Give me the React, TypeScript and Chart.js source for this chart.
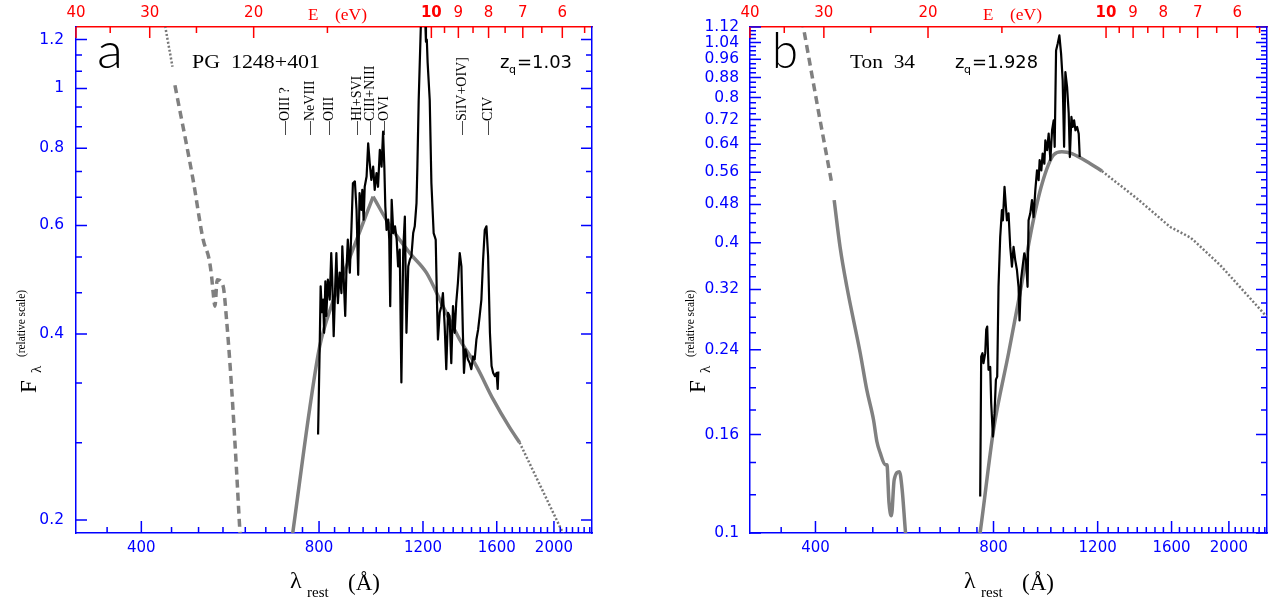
import React, { useEffect, useRef } from "react";
import { Chart, registerables } from "chart.js";

Chart.register(...registerables);

// ---------------- axes ----------------
const WAVE_MIN = 310;
const WAVE_MAX = 2320;
const HC = 12398.4; // eV * Angstrom
const WAVE_TICKS = [400, 800, 1200, 1600, 2000];
const ENERGY_TICKS = [40, 30, 20, 10, 9, 8, 7, 6];
const ENERGY_MINOR = [35, 25, 15, 9.5, 8.5, 7.5, 6.5, 5.5];
const FLUX_A_RANGE = [0.1905, 1.2576];
const FLUX_A_TICKS = [0.2, 0.4, 0.6, 0.8, 1, 1.2];
const FLUX_B_RANGE = [0.1, 1.12];
const FLUX_B_TICKS = [0.1, 0.16, 0.24, 0.32, 0.4, 0.48, 0.56, 0.64, 0.72, 0.8, 0.88, 0.96, 1.04, 1.12];

const WAVE_MINOR: number[] = [];
for (let w = 350; w <= 2300; w += 50) if (w % 400 !== 0) WAVE_MINOR.push(w);
const FLUX_A_MINOR: number[] = [];
for (let k = 4; k <= 18; k++) if (k % 3 !== 0) FLUX_A_MINOR.push((k * 0.2) / 3);
const FLUX_B_MINOR: number[] = [];
for (let k = 6; k <= 55; k++) if (k % 4 !== 0) FLUX_B_MINOR.push(k * 0.02);

// ---------------- panel a : PG 1248+401 ----------------
const SPEC_A: [number, number][] = [
  [797, 0.275], [802, 0.38], [805, 0.478], [809, 0.434], [813, 0.455], [816, 0.402], [820, 0.487],
  [823, 0.428], [828, 0.49], [834, 0.455], [839, 0.541], [842, 0.496], [847, 0.397], [852, 0.478],
  [856, 0.541], [861, 0.449], [867, 0.503], [873, 0.466], [876, 0.555], [880, 0.503], [886, 0.428],
  [890, 0.503], [895, 0.569], [902, 0.503], [908, 0.598], [913, 0.702], [920, 0.707], [926, 0.636],
  [932, 0.499], [937, 0.677], [944, 0.636], [947, 0.685], [952, 0.613], [956, 0.693], [963, 0.72],
  [969, 0.815], [975, 0.756], [981, 0.711], [988, 0.747], [994, 0.685], [1001, 0.729], [1007, 0.693],
  [1014, 0.795], [1021, 0.747], [1027, 0.851], [1032, 0.747], [1036, 0.644], [1041, 0.59], [1048, 0.613],
  [1052, 0.569], [1056, 0.444], [1062, 0.66], [1069, 0.583], [1076, 0.598], [1083, 0.569], [1089, 0.515],
  [1096, 0.548], [1103, 0.334], [1111, 0.548], [1118, 0.62], [1125, 0.402], [1133, 0.515], [1140, 0.528],
  [1147, 0.535], [1155, 0.583], [1162, 0.598], [1170, 0.652], [1174, 0.747], [1180, 0.957], [1191, 1.3],
  [1202, 1.48], [1210, 1.3], [1214, 1.19], [1218, 1.2], [1222, 1.1], [1232, 0.957], [1240, 0.702],
  [1251, 0.583], [1261, 0.569], [1267, 0.455], [1272, 0.392], [1281, 0.433], [1289, 0.444], [1297, 0.466],
  [1306, 0.412], [1314, 0.351], [1323, 0.433], [1331, 0.428], [1340, 0.359], [1349, 0.444], [1358, 0.402],
  [1366, 0.449], [1375, 0.484], [1385, 0.541], [1394, 0.515], [1402, 0.402], [1408, 0.346], [1416, 0.378],
  [1421, 0.373], [1430, 0.364], [1440, 0.359], [1449, 0.351], [1459, 0.368], [1468, 0.364], [1478, 0.392],
  [1488, 0.407], [1497, 0.428], [1507, 0.455], [1517, 0.528], [1527, 0.59], [1537, 0.598], [1547, 0.535],
  [1558, 0.402], [1568, 0.355], [1578, 0.346], [1589, 0.342], [1599, 0.346], [1606, 0.326], [1610, 0.348],
];
const MODEL_A_RISE: [number, number][] = [
  [716, 0.18], [722, 0.1905], [771, 0.302], [802, 0.382], [840, 0.445], [890, 0.515], [937, 0.585],
  [988, 0.668],
];
const MODEL_A_FALL: [number, number][] = [
  [988, 0.668], [1056, 0.598], [1140, 0.541], [1216, 0.503], [1297, 0.444], [1385, 0.392],
  [1478, 0.355], [1578, 0.3135], [1681, 0.2827], [1749, 0.267],
];
const MODEL_A_DOT_RIGHT: [number, number][] = [[1749, 0.267], [2071, 0.1905], [2110, 0.183]];
const MODEL_A_DOT_LEFT: [number, number][] = [[437, 1.3], [440.2, 1.242], [451.7, 1.084]];
const MODEL_A_DASH: [number, number][] = [
  [456, 1.012], [489.5, 0.711], [509.1, 0.569], [521.2, 0.528], [526.1, 0.496], [529.4, 0.466],
  [533, 0.444], [537.8, 0.49], [550.4, 0.478], [557.7, 0.422], [568.5, 0.33], [579.7, 0.2417],
  [587.2, 0.1934], [589, 0.185],
];
const LINES_A: [string, number][] = [
  ["\u2014OIII ?", 702], ["\u2014NeVIII", 774], ["\u2014OIII", 833], ["\u2014HI+SVI", 930],
  ["\u2014CIII+NIII", 977], ["\u2014OVI", 1034], ["\u2014SiIV+OIV]", 1400], ["\u2014CIV", 1549],
];

// ---------------- panel b : Ton 34 ----------------
const SPEC_B: [number, number][] = [
  [759.6, 0.119], [762.5, 0.232], [766.4, 0.236], [769.4, 0.225], [774.6, 0.236], [777.6, 0.264],
  [780.6, 0.268], [784.6, 0.218], [789.8, 0.221], [792.8, 0.186], [798.1, 0.1585], [803.1, 0.177],
  [807.5, 0.208], [811.6, 0.211], [815.7, 0.324], [821.1, 0.411], [826.6, 0.467], [829.8, 0.445],
  [835, 0.522], [839.6, 0.4745], [842.9, 0.445], [848.2, 0.46], [853.8, 0.392], [859.5, 0.3565],
  [864.9, 0.392], [870.6, 0.368], [876.4, 0.351], [881.9, 0.324], [885.3, 0.276], [890.2, 0.3345],
  [895.8, 0.3565], [901.7, 0.38], [907.7, 0.368], [913.4, 0.324], [917, 0.445], [923.1, 0.46],
  [929.3, 0.49], [935.1, 0.452], [941.4, 0.514], [947.6, 0.565], [953.6, 0.539], [957.3, 0.593],
  [963.7, 0.565], [968.6, 0.612], [975.1, 0.583], [978.9, 0.652], [985.4, 0.622], [991.6, 0.673],
  [998.2, 0.593], [1004.8, 0.684], [1011.1, 0.717], [1015.1, 0.632], [1020.6, 1.001], [1027, 1.034],
  [1033.8, 1.076], [1040.7, 0.986], [1047.2, 0.868], [1053, 0.632], [1058.3, 0.903], [1065.4, 0.841],
  [1072.1, 0.741], [1076.8, 0.602], [1083.4, 0.729], [1088.9, 0.695], [1094.9, 0.717], [1100.5, 0.684],
  [1107.8, 0.695], [1114.7, 0.673], [1119.1, 0.602],
];
const MODEL_B_SOLID_RIGHT: [number, number][] = [
  [755, 0.095], [764.5, 0.1065], [800, 0.1636], [848.2, 0.2359], [886.7, 0.314], [929.3, 0.4314],
  [966.4, 0.53], [1011.1, 0.608], [1044, 0.617], [1085.6, 0.612], [1166.4, 0.583], [1220, 0.563],
];
const MODEL_B_DOT_RIGHT: [number, number][] = [
  [1220, 0.563], [1398, 0.494], [1592, 0.431], [1721, 0.41], [1755, 0.4015], [1935, 0.359],
  [2318, 0.2808], [2340, 0.277],
];
const MODEL_B_DASH: [number, number][] = [[378, 1.16], [381.6, 1.119], [404.4, 0.752], [426.3, 0.53]];
const MODEL_B_SOLID_LEFT: [number, number][] = [
  [430.2, 0.49], [440.2, 0.392], [452, 0.324], [476.1, 0.2362], [488.5, 0.198], [501.4, 0.1717],
  [508, 0.1548], [514.6, 0.1466], [524.8, 0.1385], [528.3, 0.1385], [532.6, 0.1155], [537.6, 0.1086],
  [543.5, 0.129], [554.7, 0.134], [560.6, 0.1229], [568, 0.1], [570.5, 0.095],
];

// ---------------- styling ----------------
const BLUE = "#0000ff";
const RED = "#ff0000";
const GRAY = "#808080";
const SANS = '"DejaVu Sans", sans-serif';
const SERIF = '"Liberation Serif", "DejaVu Serif", serif';
const THIN = `300 50px Lato, Inter, ${SANS}`;

type Txt = {
  s: string; x: number; y: number; font: string; color?: string; w?: number; rot?: boolean;
  base?: CanvasTextBaseline;
};

function drawTxt(ctx: CanvasRenderingContext2D, t: Txt) {
  ctx.save();
  ctx.font = t.font;
  ctx.fillStyle = t.color || "#000";
  ctx.textAlign = "left";
  ctx.textBaseline = t.base || "alphabetic";
  ctx.translate(t.x, t.y);
  if (t.rot) ctx.rotate(-Math.PI / 2);
  if (t.w) {
    const m = ctx.measureText(t.s).width;
    if (m > 0) ctx.scale(t.w / m, 1);
  }
  ctx.fillText(t.s, 0, 0);
  ctx.restore();
}

const pts = (arr: [number, number][]) => arr.map(([x, y]) => ({ x, y }));
const ds = (arr: [number, number][], color: string, width: number, dash: number[] = [], smooth = false) => ({
  data: pts(arr), borderColor: color, borderWidth: width, borderDash: dash, pointRadius: 0,
  fill: false, tension: smooth ? 0.4 : 0, cubicInterpolationMode: smooth ? "monotone" : "default",
  clip: 0, xAxisID: "x", yAxisID: "y", borderCapStyle: "butt", borderJoinStyle: "round",
});

const DASH = [8, 5];
const DOT = [2, 2];

type Panel = {
  left: number; right: number; range: number[]; ticks: number[]; minor: number[];
  labelPad: number; datasets: any[]; texts: Txt[]; lines: [string, number][];
};

const PANEL_A: Panel = {
  left: 76, right: 592, range: FLUX_A_RANGE, ticks: FLUX_A_TICKS, minor: FLUX_A_MINOR, labelPad: 12,
  datasets: [
    ds(SPEC_A, "#000", 2.2),
    ds(MODEL_A_RISE, GRAY, 3.5, [], true),
    ds(MODEL_A_FALL, GRAY, 3.5, [], true),
    ds(MODEL_A_DOT_RIGHT, "#777", 2.5, DOT),
    ds(MODEL_A_DASH, GRAY, 3.5, DASH, true),
    ds(MODEL_A_DOT_LEFT, "#777", 2.5, DOT),
  ],
  lines: LINES_A,
  texts: [
    { s: "a", x: 97, y: 68, font: THIN, color: "#000", w: 26 },
    { s: "PG  1248+401", x: 192, y: 68, font: `19px ${SERIF}`, w: 128 },
    { s: "z", x: 500, y: 68, font: `18px ${SANS}` },
    { s: "q", x: 509, y: 73, font: `11px ${SANS}` },
    { s: "=1.03", x: 517, y: 68, font: `18px ${SANS}`, w: 55 },
    { s: "E", x: 308, y: 20, font: `17px ${SERIF}`, color: RED },
    { s: "(eV)", x: 335, y: 20, font: `17px ${SERIF}`, color: RED, w: 32 },
    { s: "\u03bb", x: 290, y: 588, font: `24px ${SERIF}` },
    { s: "rest", x: 307, y: 597, font: `15px ${SERIF}` },
    { s: "(\u00c5)", x: 348, y: 590, font: `23px ${SERIF}`, w: 32 },
    { s: "F", x: 36, y: 393, font: `23px ${SERIF}`, rot: true },
    { s: "\u03bb", x: 41, y: 373, font: `15px ${SERIF}`, rot: true },
    { s: "(relative scale)", x: 25, y: 357, font: `13px ${SERIF}`, rot: true, w: 67 },
  ],
};

const PANEL_B: Panel = {
  left: 113, right: 630, range: FLUX_B_RANGE, ticks: FLUX_B_TICKS, minor: FLUX_B_MINOR, labelPad: 11,
  datasets: [
    ds(SPEC_B, "#000", 2.2),
    ds(MODEL_B_SOLID_RIGHT, GRAY, 3.5, [], true),
    ds(MODEL_B_DOT_RIGHT, "#777", 2.5, DOT),
    ds(MODEL_B_DASH, GRAY, 3.5, DASH),
    ds(MODEL_B_SOLID_LEFT, GRAY, 3.5, [], true),
  ],
  lines: [],
  texts: [
    { s: "b", x: 135, y: 68, font: THIN, color: "#000", w: 26 },
    { s: "Ton  34", x: 213, y: 68, font: `19px ${SERIF}`, w: 65 },
    { s: "z", x: 318, y: 68, font: `18px ${SANS}` },
    { s: "q", x: 327, y: 73, font: `11px ${SANS}` },
    { s: "=1.928", x: 335, y: 68, font: `18px ${SANS}`, w: 66 },
    { s: "E", x: 346, y: 20, font: `17px ${SERIF}`, color: RED },
    { s: "(eV)", x: 373, y: 20, font: `17px ${SERIF}`, color: RED, w: 32 },
    { s: "\u03bb", x: 327, y: 588, font: `24px ${SERIF}` },
    { s: "rest", x: 344, y: 597, font: `15px ${SERIF}` },
    { s: "(\u00c5)", x: 385, y: 590, font: `23px ${SERIF}`, w: 32 },
    { s: "F", x: 68, y: 393, font: `23px ${SERIF}`, rot: true },
    { s: "\u03bb", x: 73, y: 373, font: `15px ${SERIF}`, rot: true },
    { s: "(relative scale)", x: 57, y: 357, font: `13px ${SERIF}`, rot: true, w: 67 },
  ],
};

function makeDecor(p: Panel) {
  return {
    id: "decor",
    afterDraw(chart: any) {
      const ctx: CanvasRenderingContext2D = chart.ctx;
      const a = chart.chartArea;
      const sx = chart.scales.x, se = chart.scales.e, sy = chart.scales.y;
      const inH = (px: number) => px >= a.left - 0.5 && px <= a.right + 0.5;
      const inV = (py: number) => py >= a.top - 0.5 && py <= a.bottom + 0.5;
      ctx.save();
      ctx.lineWidth = 1.5;
      ctx.lineCap = "butt";
      ctx.strokeStyle = BLUE;
      ctx.beginPath();
      const xt = (vals: number[], len: number) => {
        for (const v of vals) {
          const px = sx.getPixelForValue(v);
          if (!inH(px)) continue;
          ctx.moveTo(px, a.bottom); ctx.lineTo(px, a.bottom - len);
        }
      };
      xt(WAVE_TICKS, 12); xt(WAVE_MINOR, 6);
      const yt = (vals: number[], len: number) => {
        for (const v of vals) {
          const py = sy.getPixelForValue(v);
          if (!inV(py)) continue;
          ctx.moveTo(a.left, py); ctx.lineTo(a.left + len, py);
          ctx.moveTo(a.right, py); ctx.lineTo(a.right - len, py);
        }
      };
      yt(p.ticks, 11); yt(p.minor, 6);
      ctx.stroke();
      ctx.strokeStyle = RED;
      ctx.beginPath();
      const et = (vals: number[], len: number) => {
        for (const v of vals) {
          const px = se.getPixelForValue(v);
          if (!inH(px)) continue;
          ctx.moveTo(px, a.top); ctx.lineTo(px, a.top + len);
        }
      };
      et(ENERGY_TICKS, 11); et(ENERGY_MINOR, 6);
      ctx.stroke();
      ctx.restore();
      for (const t of p.texts) drawTxt(ctx, t);
      for (const [s, wl] of p.lines) {
        drawTxt(ctx, { s, x: sx.getPixelForValue(wl), y: 135, font: `14px ${SERIF}`, rot: true, base: "middle" });
      }
    },
  };
}

function makeChart(canvas: HTMLCanvasElement, p: Panel) {
  const W = 637, H = 600;
  return new Chart(canvas, {
    type: "line",
    data: { datasets: p.datasets as any },
    options: {
      responsive: false,
      animation: false,
      devicePixelRatio: 1,
      events: [],
      layout: { padding: 0 },
      plugins: { legend: { display: false }, tooltip: { enabled: false } },
      scales: {
        x: {
          type: "logarithmic", position: "bottom", min: WAVE_MIN, max: WAVE_MAX, bounds: "data",
          afterFit: (s: any) => { s.height = H - 533; },
          afterBuildTicks: (s: any) => { s.ticks = WAVE_TICKS.map((v) => ({ value: v })); },
          ticks: {
            autoSkip: false, maxRotation: 0, minRotation: 0, padding: 6, color: BLUE,
            font: { family: SANS, size: 15 }, callback: (v: any) => String(v),
          },
          grid: { display: false, drawTicks: false },
          border: { display: true, color: BLUE, width: 1.5 },
        },
        e: {
          type: "logarithmic", position: "top", reverse: true, min: HC / WAVE_MAX, max: HC / WAVE_MIN,
          bounds: "data",
          afterFit: (s: any) => { s.height = 27; },
          afterBuildTicks: (s: any) => { s.ticks = ENERGY_TICKS.map((v) => ({ value: v })); },
          ticks: {
            autoSkip: false, maxRotation: 0, minRotation: 0, padding: 5, color: RED,
            font: (c: any) => ({ family: SANS, size: 15, weight: c.tick && c.tick.value === 10 ? "bold" : "normal" }),
            callback: (v: any) => String(v),
          },
          grid: { display: false, drawTicks: false },
          border: { display: true, color: RED, width: 1.5 },
        },
        y: {
          type: "logarithmic", position: "left", min: p.range[0], max: p.range[1], bounds: "data",
          afterFit: (s: any) => { s.width = p.left; },
          afterBuildTicks: (s: any) => { s.ticks = p.ticks.map((v) => ({ value: v })); },
          ticks: {
            autoSkip: false, padding: p.labelPad, color: BLUE, font: { family: SANS, size: 15.5 },
            callback: (v: any) => String(v),
          },
          grid: { display: false, drawTicks: false },
          border: { display: true, color: BLUE, width: 1.5 },
        },
        yr: {
          type: "logarithmic", position: "right", min: p.range[0], max: p.range[1], bounds: "data",
          afterFit: (s: any) => { s.width = W - p.right; },
          ticks: { display: false },
          grid: { display: false, drawTicks: false },
          border: { display: true, color: BLUE, width: 1.5 },
        },
      } as any,
    },
    plugins: [makeDecor(p) as any],
  });
}

export default function App() {
  const refA = useRef<HTMLCanvasElement>(null);
  const refB = useRef<HTMLCanvasElement>(null);
  useEffect(() => {
    const ca = makeChart(refA.current as HTMLCanvasElement, PANEL_A);
    const cb = makeChart(refB.current as HTMLCanvasElement, PANEL_B);
    return () => { ca.destroy(); cb.destroy(); };
  }, []);
  return (
    <div style={{ position: "fixed", left: 0, top: 0, width: 1274, height: 600, background: "#fff" }}>
      <canvas ref={refA} width={637} height={600} style={{ position: "absolute", left: 0, top: 0, width: 637, height: 600 }} />
      <canvas ref={refB} width={637} height={600} style={{ position: "absolute", left: 637, top: 0, width: 637, height: 600 }} />
    </div>
  );
}
